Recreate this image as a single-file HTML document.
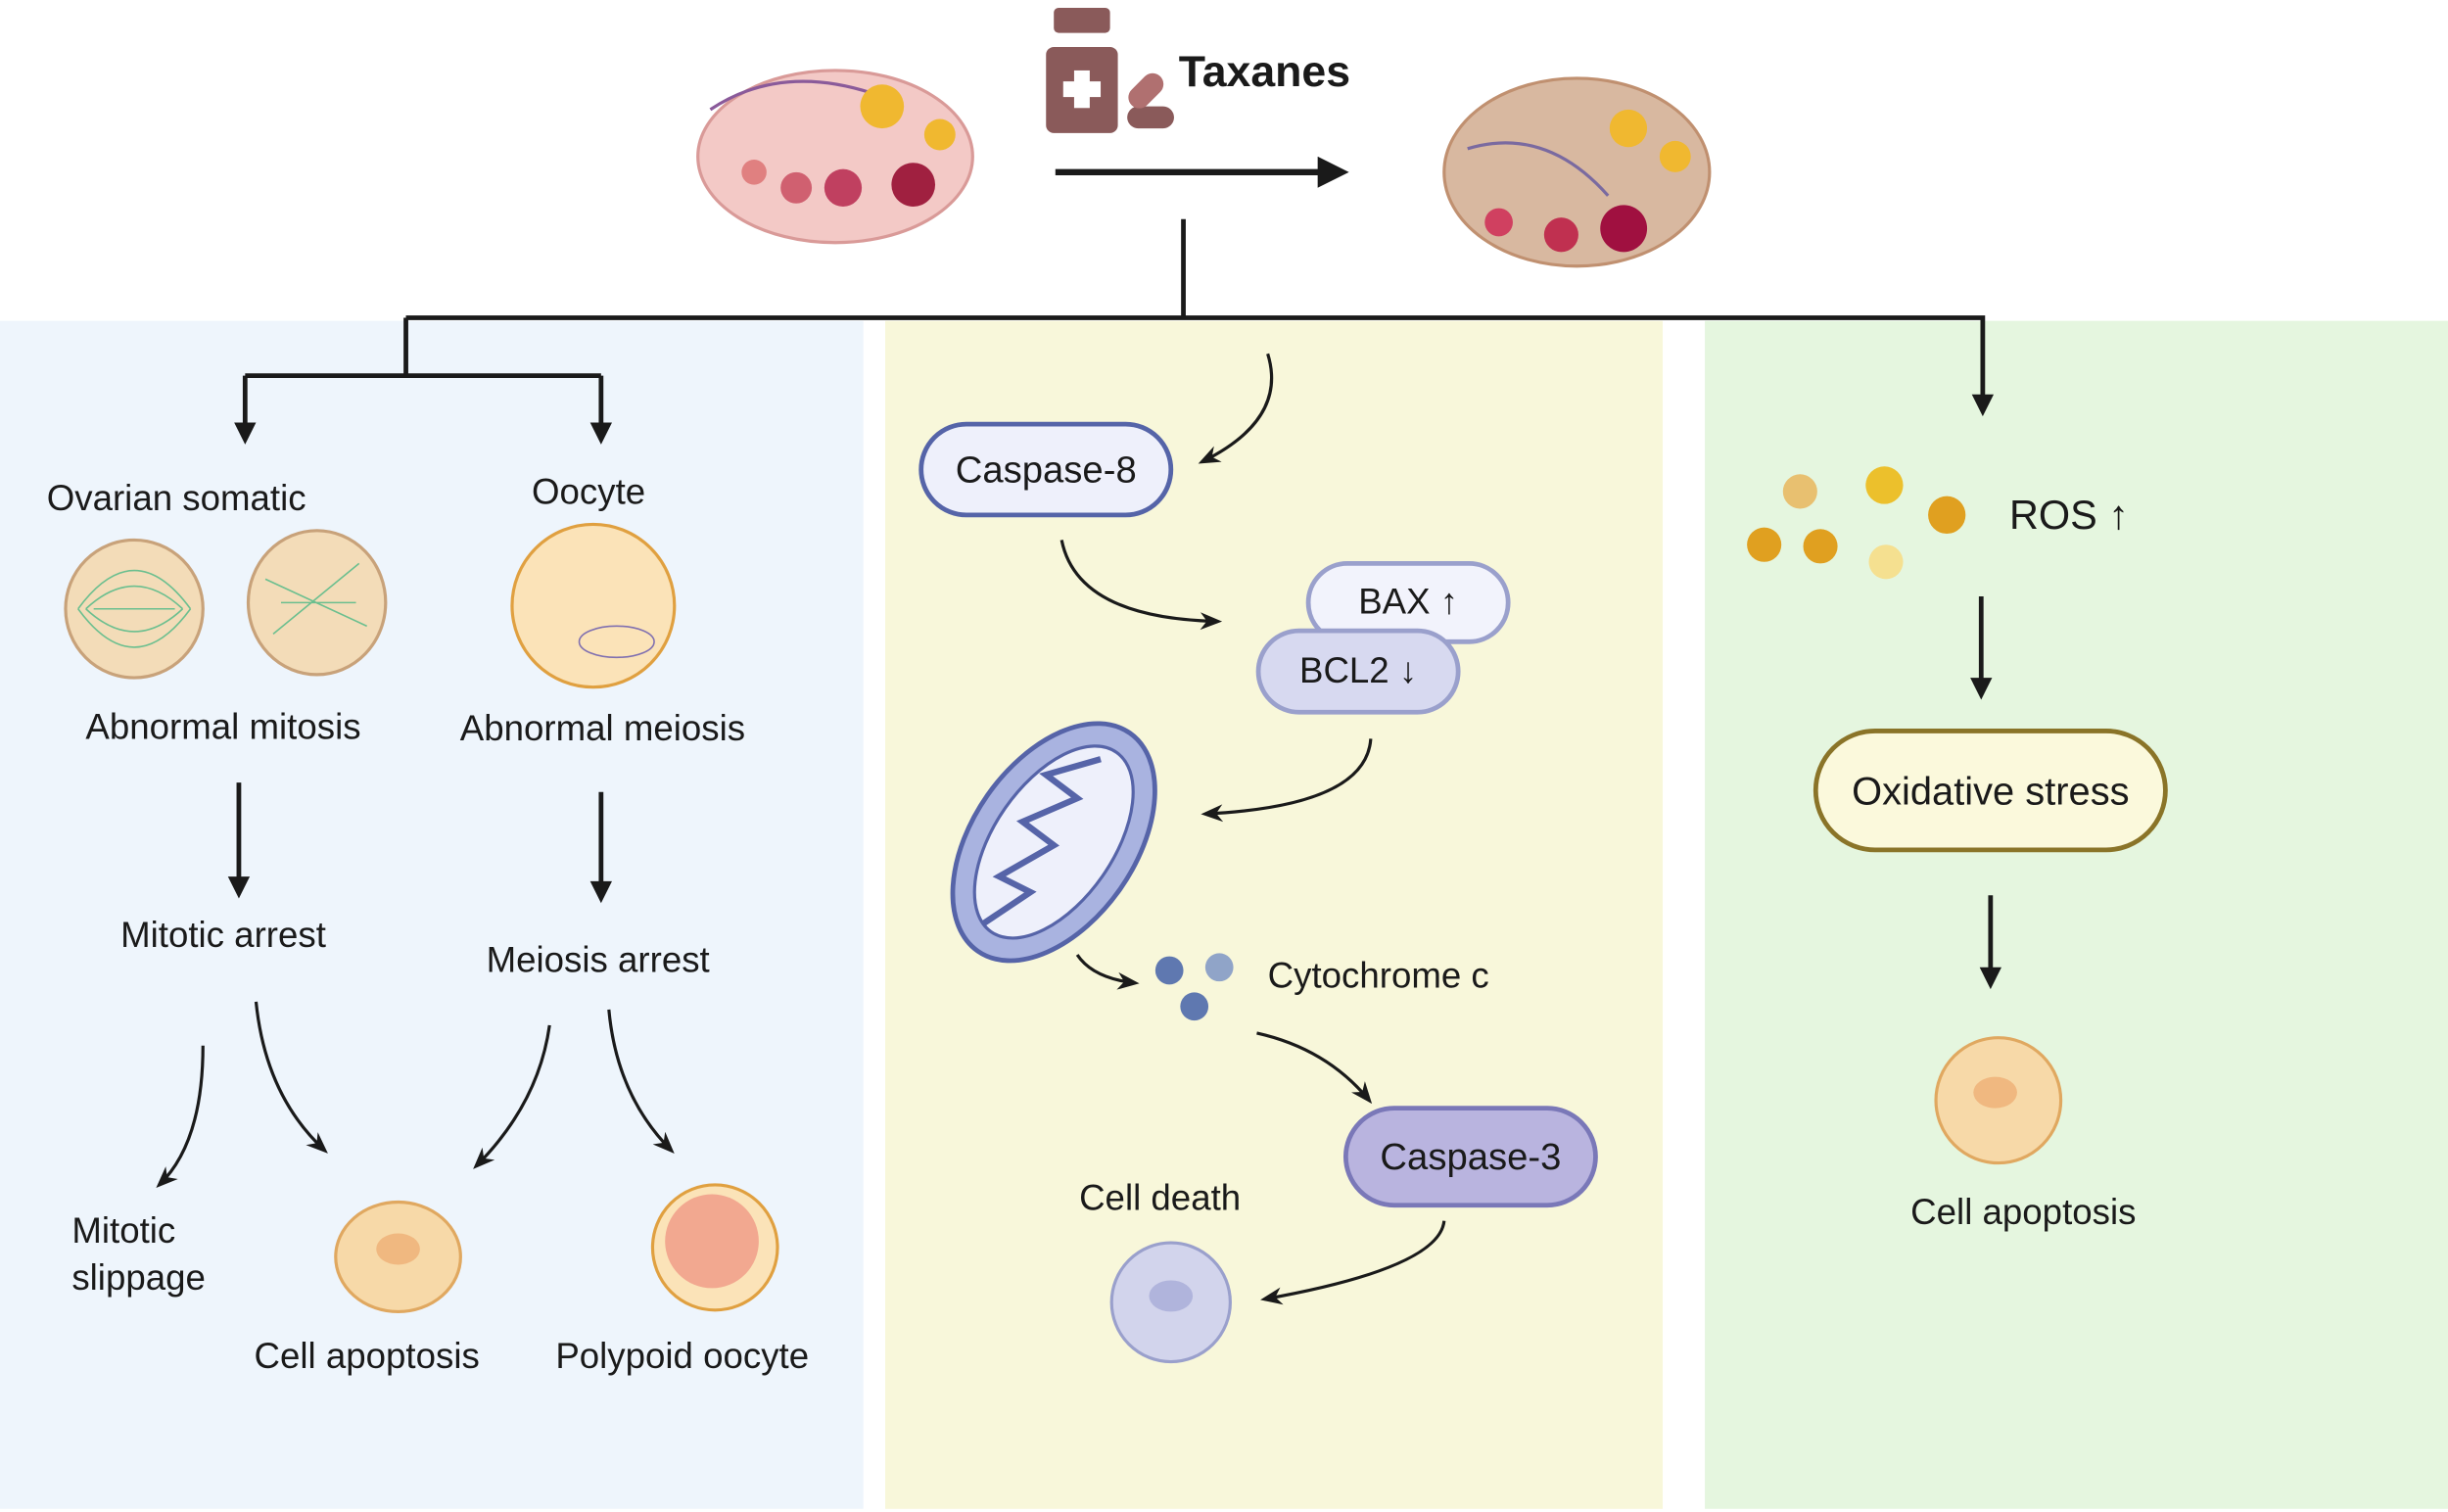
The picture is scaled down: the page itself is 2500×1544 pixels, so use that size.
<!DOCTYPE html>
<html><head><meta charset="utf-8"><style>
html,body{margin:0;padding:0;background:#fff}
svg{display:block}
text{font-family:"Liberation Sans",sans-serif;fill:#1a1a1a}
</style></head><body>
<svg width="2500" height="1544" viewBox="0 0 1568 966" preserveAspectRatio="none" xmlns="http://www.w3.org/2000/svg">
<defs>
<marker id="a" viewBox="0 0 10 10" refX="8" refY="5" markerWidth="5" markerHeight="5" orient="auto"><path d="M0,0L10,5L0,10z" fill="#1a1a1a"/></marker>
<marker id="b" viewBox="0 0 10 10" refX="8" refY="5" markerWidth="7" markerHeight="7" orient="auto"><path d="M0,1L10,5L0,9L3,5z" fill="#1a1a1a"/></marker>
</defs>
<rect x="0" y="205" width="553" height="759" fill="#eef5fc"/>
<rect x="567" y="205" width="498" height="759" fill="#f8f7da"/>
<rect x="1092" y="205" width="476" height="759" fill="#e5f6df"/>

<!-- ovaries -->
<ellipse cx="535" cy="100" rx="88" ry="55" fill="#f3c9c6" stroke="#d99a98" stroke-width="2"/>
<path d="M455,70Q500,40 560,60" stroke="#8a5a9a" stroke-width="2" fill="none"/>
<circle cx="483" cy="110" r="8" fill="#e08080"/><circle cx="510" cy="120" r="10" fill="#d06070"/><circle cx="540" cy="120" r="12" fill="#c04060"/><circle cx="585" cy="118" r="14" fill="#a02040"/>
<circle cx="565" cy="68" r="14" fill="#f0b830"/><circle cx="602" cy="86" r="10" fill="#f0b830"/>
<ellipse cx="1010" cy="110" rx="85" ry="60" fill="#d8b8a0" stroke="#c09070" stroke-width="2"/>
<path d="M940,95Q990,80 1030,125" stroke="#7a6aa0" stroke-width="2" fill="none"/>
<circle cx="960" cy="142" r="9" fill="#d04060"/><circle cx="1000" cy="150" r="11" fill="#c03050"/><circle cx="1040" cy="146" r="15" fill="#a01040"/>
<circle cx="1043" cy="82" r="12" fill="#f0b830"/><circle cx="1073" cy="100" r="10" fill="#f0b830"/>
<!-- bottle -->
<rect x="670" y="30" width="46" height="55" rx="5" fill="#8a5a5a"/><rect x="675" y="5" width="36" height="16" rx="3" fill="#8a5a5a"/>
<rect x="688" y="45" width="10" height="24" fill="#fff"/><rect x="681" y="52" width="24" height="10" fill="#fff"/>
<rect x="722" y="68" width="30" height="14" rx="7" fill="#8a5a5a"/>
<rect x="727" y="45" width="14" height="26" rx="7" fill="#b07070" transform="rotate(45 734 58)"/>
<text x="755" y="55" font-size="28" font-weight="bold">Taxanes</text>
<line x1="676" y1="110" x2="860" y2="110" stroke="#1a1a1a" stroke-width="4" marker-end="url(#a)"/>

<g stroke="#1a1a1a" stroke-width="3" fill="none">
<path d="M758,140V203M260,203H1270V262M260,203V240M157,240H385M157,240V280M385,240V280" />
</g>
<path d="M150,270h14l-7,14z M378,270h14l-7,14z M1263,252h14l-7,14z" fill="#1a1a1a"/>

<!-- left -->
<text x="113" y="326" font-size="23" text-anchor="middle">Ovarian somatic</text>
<text x="377" y="322" font-size="23" text-anchor="middle">Oocyte</text>
<circle cx="86" cy="389" r="44" fill="#f3dcb8" stroke="#c8a27a" stroke-width="2"/>
<path d="M50,389Q86,340 122,389M50,389Q86,438 122,389M60,389H112M55,389Q86,360 117,389M55,389Q86,418 117,389" stroke="#6bbf8f" fill="none"/>
<ellipse cx="203" cy="385" rx="44" ry="46" fill="#f3dcb8" stroke="#c8a27a" stroke-width="2"/>
<path d="M170,370L235,400M175,405L230,360M180,385H228" stroke="#6bbf8f" fill="none"/>
<circle cx="380" cy="387" r="52" fill="#fbe3b8" stroke="#e0a040" stroke-width="2"/>
<ellipse cx="395" cy="410" rx="24" ry="10" fill="none" stroke="#8070b0"/>
<text x="143" y="472" font-size="23" text-anchor="middle">Abnormal mitosis</text>
<text x="386" y="473" font-size="23" text-anchor="middle">Abnormal meiosis</text>
<g stroke="#1a1a1a" stroke-width="3"><line x1="153" y1="500" x2="153" y2="565"/><line x1="385" y1="506" x2="385" y2="568"/></g>
<path d="M146,560h14l-7,14z M378,563h14l-7,14z" fill="#1a1a1a"/>
<text x="143" y="605" font-size="23" text-anchor="middle">Mitotic arrest</text>
<text x="383" y="621" font-size="23" text-anchor="middle">Meiosis arrest</text>
<g stroke="#1a1a1a" stroke-width="2" fill="none" marker-end="url(#b)">
<path d="M130,668Q130,730 102,757"/><path d="M164,640Q170,700 208,735"/>
<path d="M352,655Q345,705 305,745"/><path d="M390,645Q395,700 430,735"/>
</g>
<text x="46" y="794" font-size="23">Mitotic</text><text x="46" y="824" font-size="23">slippage</text>
<ellipse cx="255" cy="803" rx="40" ry="35" fill="#f7d9a8" stroke="#e0a860" stroke-width="2"/>
<ellipse cx="255" cy="798" rx="14" ry="10" fill="#f0b880"/>
<text x="235" y="874" font-size="23" text-anchor="middle">Cell apoptosis</text>
<circle cx="458" cy="797" r="40" fill="#fbe3b8" stroke="#e0a040" stroke-width="2"/>
<circle cx="456" cy="793" r="30" fill="#f2a890"/>
<text x="437" y="874" font-size="23" text-anchor="middle">Polypoid oocyte</text>

<!-- middle -->
<path d="M812,226Q825,268 770,295" stroke="#1a1a1a" stroke-width="2" fill="none" marker-end="url(#b)"/>
<rect x="590" y="271" width="160" height="58" rx="29" fill="#eef0fb" stroke="#5564a8" stroke-width="3"/>
<text x="670" y="308" font-size="24" text-anchor="middle">Caspase-8</text>
<path d="M680,345Q690,395 780,397" stroke="#1a1a1a" stroke-width="2" fill="none" marker-end="url(#b)"/>
<rect x="838" y="360" width="128" height="50" rx="25" fill="#f2f3fc" stroke="#9aa0cc" stroke-width="3"/>
<text x="902" y="392" font-size="23" text-anchor="middle">BAX ↑</text>
<rect x="806" y="403" width="128" height="52" rx="26" fill="#d7d9f0" stroke="#9aa0cc" stroke-width="3"/>
<text x="870" y="436" font-size="23" text-anchor="middle">BCL2 ↓</text>
<path d="M878,472Q875,515 772,520" stroke="#1a1a1a" stroke-width="2" fill="none" marker-end="url(#b)"/>
<ellipse cx="675" cy="538" rx="52" ry="85" transform="rotate(35 675 538)" fill="#a9b3e0" stroke="#5664a8" stroke-width="3"/>
<ellipse cx="675" cy="538" rx="38" ry="70" transform="rotate(35 675 538)" fill="#eef0fb" stroke="#5664a8" stroke-width="2"/>
<path d="M630,590L660,570L640,560L675,540L655,525L690,510L670,495L705,485" transform="" stroke="#5664a8" stroke-width="4" fill="none"/>
<path d="M690,610Q700,625 727,628" stroke="#1a1a1a" stroke-width="2" fill="none" marker-end="url(#b)"/>
<circle cx="749" cy="620" r="9" fill="#5f78b0"/><circle cx="781" cy="618" r="9" fill="#90a4c8"/><circle cx="765" cy="643" r="9" fill="#5f78b0"/>
<text x="812" y="631" font-size="23">Cytochrome c</text>
<path d="M805,660Q850,670 877,703" stroke="#1a1a1a" stroke-width="2" fill="none" marker-end="url(#b)"/>
<rect x="862" y="708" width="160" height="62" rx="31" fill="#b9b4df" stroke="#7a78b8" stroke-width="3"/>
<text x="942" y="747" font-size="24" text-anchor="middle">Caspase-3</text>
<text x="743" y="773" font-size="23" text-anchor="middle">Cell death</text>
<ellipse cx="750" cy="832" rx="38" ry="38" fill="#d2d4ec" stroke="#9aa0cc" stroke-width="2"/>
<ellipse cx="750" cy="828" rx="14" ry="10" fill="#b0b4dc"/>
<path d="M925,780Q922,810 810,830" stroke="#1a1a1a" stroke-width="2" fill="none" marker-end="url(#b)"/>

<!-- right -->
<circle cx="1153" cy="314" r="11" fill="#e8c070"/><circle cx="1207" cy="310" r="12" fill="#ecc02c"/><circle cx="1247" cy="329" r="12" fill="#e0a020"/>
<circle cx="1130" cy="348" r="11" fill="#e0a020"/><circle cx="1166" cy="349" r="11" fill="#e0a020"/><circle cx="1208" cy="359" r="11" fill="#f5e090"/>
<text x="1287" y="338" font-size="26">ROS ↑</text>
<line x1="1269" y1="381" x2="1269" y2="437" stroke="#1a1a1a" stroke-width="3"/><path d="M1262,433h14l-7,14z" fill="#1a1a1a"/>
<rect x="1163" y="467" width="224" height="76" rx="38" fill="#fbf9dc" stroke="#8a7428" stroke-width="3"/>
<text x="1275" y="514" font-size="25" text-anchor="middle">Oxidative stress</text>
<line x1="1275" y1="572" x2="1275" y2="622" stroke="#1a1a1a" stroke-width="3"/><path d="M1268,618h14l-7,14z" fill="#1a1a1a"/>
<ellipse cx="1280" cy="703" rx="40" ry="40" fill="#f7d9a8" stroke="#e0a860" stroke-width="2"/>
<ellipse cx="1278" cy="698" rx="14" ry="10" fill="#f0b880"/>
<text x="1296" y="782" font-size="23" text-anchor="middle">Cell apoptosis</text>
</svg>
</body></html>
